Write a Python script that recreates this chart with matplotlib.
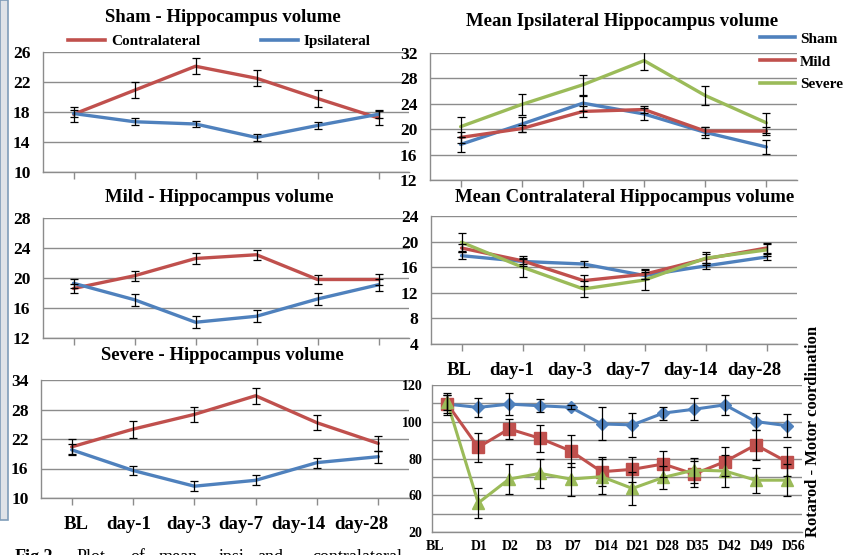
import numpy as np
import matplotlib
matplotlib.use("Agg")
import matplotlib.pyplot as plt
from matplotlib.lines import Line2D
from matplotlib.patches import Rectangle

W, H = 850, 555
RED = "#C0504D"
BLUE = "#4F81BD"
GREEN = "#9BBB59"
GRID = "#8C8C8C"

days = ["BL", "day-1", "day-3", "day-7", "day-14", "day-28"]

# Sham panel
sham_contra = [17.7, 20.9, 24.1, 22.5, 19.8, 17.2]
sham_contra_err = [1.0, 1.05, 1.05, 1.1, 1.1, 1.0]
sham_ipsi = [17.8, 16.7, 16.4, 14.6, 16.2, 17.7]
sham_ipsi_err = [0.5, 0.45, 0.4, 0.5, 0.5, 0.45]

# Mild panel
mild_contra = [18.6, 20.3, 22.6, 23.1, 19.8, 19.8]
mild_contra_err = [0.6, 0.7, 0.7, 0.7, 0.6, 0.7]
mild_ipsi = [19.3, 17.1, 14.1, 14.9, 17.2, 19.1]
mild_ipsi_err = [0.6, 0.8, 0.8, 0.8, 0.8, 0.8]

# Severe panel
severe_contra = [20.4, 24.0, 27.0, 30.8, 25.3, 21.1]
severe_contra_err = [1.5, 1.7, 1.5, 1.6, 1.5, 1.6]
severe_ipsi = [19.8, 15.6, 12.4, 13.6, 17.2, 18.4]
severe_ipsi_err = [1.1, 1.0, 1.0, 1.0, 1.0, 1.2]

# Mean ipsilateral
ipsi_sham = [17.6, 20.8, 24.1, 22.4, 19.5, 17.2]
ipsi_sham_err = [1.2, 1.2, 1.2, 1.0, 0.9, 1.1]
ipsi_mild = [18.7, 20.1, 22.8, 23.1, 19.7, 19.7]
ipsi_mild_err = [0.9, 0.6, 0.9, 0.5, 0.6, 0.6]
ipsi_severe = [20.4, 23.9, 27.0, 30.8, 25.3, 21.0]
ipsi_severe_err = [1.6, 1.7, 1.6, 1.5, 1.5, 1.6]

# Mean contralateral
contra_sham = [17.8, 16.9, 16.5, 14.7, 16.2, 17.6]
contra_sham_err = [0.5, 0.4, 0.4, 0.5, 0.5, 0.4]
contra_mild = [19.0, 17.0, 13.9, 14.9, 17.3, 19.0]
contra_mild_err = [0.7, 0.8, 0.9, 0.8, 0.7, 0.8]
contra_severe = [19.9, 16.0, 12.6, 14.0, 17.4, 18.7]
contra_severe_err = [1.4, 1.5, 1.2, 1.5, 1.0, 0.9]

# Rotarod
rot_days = ["BL", "D1", "D2", "D3", "D7", "D14", "D21", "D28", "D35", "D42", "D49", "D56"]
rot_sham = [109.6, 107.8, 109.6, 108.7, 107.9, 98.8, 98.3, 104.7, 106.8, 109.2, 100.1, 97.9]
rot_sham_err = [5.9, 5.0, 6.0, 3.5, 1.0, 9.0, 6.7, 3.5, 6.0, 5.6, 4.4, 6.3]
rot_mild = [109.6, 86.1, 96.1, 91.0, 84.1, 72.8, 74.1, 77.0, 71.5, 78.3, 87.4, 78.3]
rot_mild_err = [5.0, 8.0, 5.4, 7.3, 8.6, 7.8, 6.8, 7.3, 7.0, 7.8, 8.2, 8.0]
rot_severe = [110.5, 55.8, 68.8, 71.9, 68.8, 70.1, 63.7, 69.7, 73.7, 73.2, 68.2, 68.2]
rot_severe_err = [4.0, 8.0, 8.0, 7.7, 9.0, 9.4, 8.8, 6.4, 6.8, 8.5, 6.8, 8.6]
rot_ticks = [40, 60, 80, 100, 120]
rot_ticklabels = ["20", "60", "80", "100", "120"]

# where the category labels sit (slightly off the tick marks in the original)
left_label_pos = [0.08, 0.93, 1.90, 2.76, 3.70, 4.72]
right_label_pos = [-0.04, 0.82, 1.78, 2.72, 3.75, 4.80]
rot_label_pos = [-0.40, 1.02, 2.05, 3.13, 4.07, 5.17, 6.18, 7.15, 8.12, 9.15, 10.20, 11.23]

plt.rcParams["font.family"] = ["Liberation Serif", "DejaVu Serif"]
plt.rcParams["font.weight"] = "bold"

fig = plt.figure(figsize=(W / 100, H / 100), dpi=100)


def px_axes(x0, y0, x1, y1):
    return fig.add_axes([x0 / W, 1 - y1 / H, (x1 - x0) / W, (y1 - y0) / H])


def style(ax, ylim, step, ncat, pad=9, ticks=True):
    ax.set_xlim(-0.5, ncat - 0.5)
    ax.set_ylim(*ylim)
    ax.set_yticks(np.arange(ylim[0], ylim[1] + 0.1, step))
    ax.set_xticks(np.arange(ncat))
    ax.set_xticklabels([])
    for s in ["top", "right"]:
        ax.spines[s].set_visible(False)
    for s in ["left", "bottom"]:
        ax.spines[s].set_color(GRID)
        ax.spines[s].set_linewidth(1.0)
    ax.grid(axis="y", color=GRID, linewidth=1.0)
    ax.set_axisbelow(True)
    ax.tick_params(axis="y", length=0, pad=pad, labelsize=12.5)
    ax.tick_params(axis="x", length=5 if ticks else 0, color=GRID, width=1.0)
    ax.patch.set_alpha(0)


def cat_labels(ax, pos, labels, size, pad):
    ax.set_xticks(pos, minor=True)
    ax.set_xticklabels(labels, minor=True, fontsize=size)
    ax.tick_params(axis="x", which="minor", length=0, pad=pad)


def series(ax, y, e, color):
    x = np.arange(len(y))
    ax.plot(x, y, color=color, lw=2.4, zorder=2, solid_capstyle="round")
    ax.errorbar(x, y, yerr=e, fmt="none", ecolor="black", elinewidth=0.9,
                capsize=3, capthick=0.9, zorder=3)


# left column
axA = px_axes(43, 52, 409, 172)
style(axA, (10, 26), 4, 6)
series(axA, sham_contra, sham_contra_err, RED)
series(axA, sham_ipsi, sham_ipsi_err, BLUE)

axB = px_axes(43, 218, 409, 338)
style(axB, (12, 28), 4, 6)
series(axB, mild_contra, mild_contra_err, RED)
series(axB, mild_ipsi, mild_ipsi_err, BLUE)

axC = px_axes(41, 380, 409, 498)
style(axC, (10, 34), 6, 6)
series(axC, severe_contra, severe_contra_err, RED)
series(axC, severe_ipsi, severe_ipsi_err, BLUE)
cat_labels(axC, left_label_pos, days, 13.5, 13)

# right column
axD = px_axes(430, 53, 797, 180)
style(axD, (12, 32), 4, 6)
series(axD, ipsi_sham, ipsi_sham_err, BLUE)
series(axD, ipsi_mild, ipsi_mild_err, RED)
series(axD, ipsi_severe, ipsi_severe_err, GREEN)

axE = px_axes(431, 216, 797, 344)
style(axE, (4, 24), 4, 6)
series(axE, contra_sham, contra_sham_err, BLUE)
series(axE, contra_mild, contra_mild_err, RED)
series(axE, contra_severe, contra_severe_err, GREEN)
cat_labels(axE, right_label_pos, days, 13.5, 13)

axF = px_axes(432, 385, 802, 532)
style(axF, (40, 120), 20, 12, pad=7, ticks=False)
axF.set_yticks(rot_ticks)
axF.set_yticklabels(rot_ticklabels, fontsize=10)
axF.set_yticks(np.arange(40, 121, 10), minor=True)
axF.tick_params(axis="y", which="minor", length=0)
axF.grid(axis="y", which="minor", color=GRID, linewidth=1.0)
cat_labels(axF, rot_label_pos, rot_days, 10, 6)
xr = np.arange(len(rot_days))
for y, e, c, m, ms in [(rot_sham, rot_sham_err, BLUE, "D", 6),
                       (rot_mild, rot_mild_err, RED, "s", 8),
                       (rot_severe, rot_severe_err, GREEN, "^", 9)]:
    axF.plot(xr, y, color=c, lw=2.2, marker=m, ms=ms, zorder=2)
    axF.errorbar(xr, y, yerr=e, fmt="none", ecolor="black", elinewidth=0.9,
                 capsize=3, capthick=0.9, zorder=3)

fig.text(813 / W, 1 - 431 / H, "Rotarod - Motor coordination", rotation=90,
         ha="center", va="center", fontsize=12)

# titles
for x, y, t in [(223, 18, "Sham - Hippocampus volume"),
                (219, 198, "Mild - Hippocampus volume"),
                (222, 355, "Severe - Hippocampus volume"),
                (622, 21, "Mean Ipsilateral Hippocampus volume"),
                (625, 198, "Mean Contralateral Hippocampus volume")]:
    fig.text(x / W, 1 - y / H, t, ha="center", va="center", fontsize=13.5)

# legends
h_contra = Line2D([], [], color=RED, lw=2.6)
h_ipsi = Line2D([], [], color=BLUE, lw=2.6)
axA.legend([h_contra, h_ipsi], ["Contralateral", "Ipsilateral"], ncol=2,
           loc="center left", bbox_to_anchor=(68 / W, 1 - 41 / H),
           bbox_transform=fig.transFigure, frameon=False, fontsize=11,
           handlelength=2.4, handletextpad=0.4, columnspacing=4.0,
           borderpad=0, borderaxespad=0)

h_sham = Line2D([], [], color=BLUE, lw=2.6)
h_mild = Line2D([], [], color=RED, lw=2.6)
h_sev = Line2D([], [], color=GREEN, lw=2.6)
axD.legend([h_sham, h_mild, h_sev], ["Sham", "Mild", "Severe"],
           loc="upper left", bbox_to_anchor=(760 / W, 1 - 32 / H),
           bbox_transform=fig.transFigure, frameon=False, fontsize=11,
           handlelength=2.3, handletextpad=0.3, labelspacing=0.6,
           borderpad=0, borderaxespad=0)

# caption (cut off at the bottom of the screenshot)
for x, t, w in [(15, "Fig.2", "bold"), (77, "Plot", "normal"), (130, "of", "normal"),
                (159, "mean", "normal"), (219, "ipsi", "normal"),
                (257, "and", "normal"), (312, "contralateral", "normal")]:
    fig.text(x / W, 1 - 562 / H, t, ha="left", va="baseline", fontsize=13,
             fontweight=w)

# window border strip on the left edge
fig.patches.append(Rectangle((0, 1 - 520 / H), 8 / W, 520 / H,
                             transform=fig.transFigure, facecolor="#dfe3e8",
                             edgecolor="#7f9db9", linewidth=1.2))

fig.savefig("out.png", dpi=100)
